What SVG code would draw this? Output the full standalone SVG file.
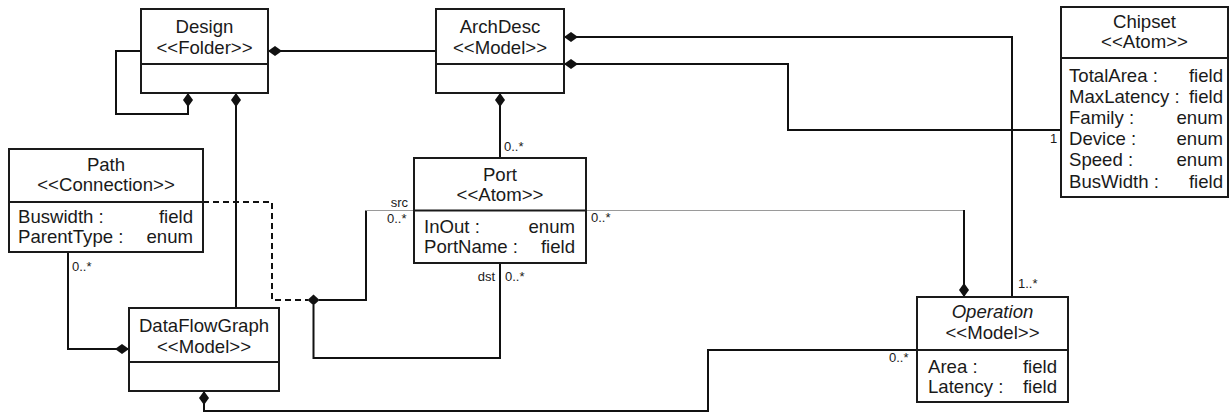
<svg xmlns="http://www.w3.org/2000/svg" width="1231" height="413" viewBox="0 0 1231 413">
<style>
  .box { fill: #fff; stroke: #1a1a1a; stroke-width: 2; }
  .div { stroke: #1a1a1a; stroke-width: 2; fill: none; }
  .t { font-family: "Liberation Sans", Arial, sans-serif; font-size: 18.6px; fill: #1a1a1a; }
  .c { text-anchor: middle; }
  .r { text-anchor: end; }
  .i { font-style: italic; }
  .lbl { font-family: "Liberation Sans", Arial, sans-serif; font-size: 13px; fill: #1a1a1a; }
  .ln { fill: none; stroke: #111; stroke-width: 2; }
  .comp { marker-start: url(#dia); }
  .thin { fill: none; stroke: #9a9a9a; stroke-width: 1.2; }
  .dash { fill: none; stroke: #111; stroke-width: 2; stroke-dasharray: 6 4; }
</style>
<defs>
  <marker id="dia" viewBox="0 0 14 10" refX="0" refY="5" markerWidth="14" markerHeight="10" markerUnits="userSpaceOnUse" orient="auto">
    <path d="M0,5 L7,0 L14,5 L7,10 Z" fill="#111"/>
  </marker>
</defs>
<rect width="1231" height="413" fill="#fff"/>

<g id="connectors">
  <path class="ln comp" d="M188,93 V114 H116 V51 H141"/>
  <path class="ln comp" d="M236,93 V308"/>
  <path class="ln comp" d="M268,51 H436"/>
  <path class="ln comp" d="M500,93 V158"/>
  <text class="lbl" x="504" y="151">0..*</text>
  <path class="ln comp" d="M564,37 H1012 V297"/>
  <text class="lbl" x="1018" y="288">1..*</text>
  <path class="ln comp" d="M564,64 H788 V130 H1061"/>
  <text class="lbl" x="1050" y="143">1</text>
  <path class="thin" d="M586,210.5 H964"/>
  <path class="ln comp" d="M964,297 V210"/>
  <text class="lbl" x="591" y="222">0..*</text>
  <path class="ln comp" d="M204,391 V411 H708 V350 H917"/>
  <text class="lbl" x="889" y="362">0..*</text>
  <path class="ln comp" d="M129,349 H68 V252"/>
  <text class="lbl" x="72" y="271">0..*</text>
  <path class="dash" d="M203,202 H272 V300 H308"/>
  <polygon points="307.5,300 313.5,294.5 319.5,300 313.5,305.5" fill="#111"/>
  <path class="ln" d="M319,300 H366 V210.5"/>
  <path class="thin" d="M366,210.5 H414"/>
  <text class="lbl r" x="408" y="207">src</text>
  <text class="lbl" x="387" y="223">0..*</text>
  <path class="ln" d="M313.5,305 V358 H500 V263"/>
  <text class="lbl r" x="495" y="281">dst</text>
  <text class="lbl" x="505" y="281">0..*</text>
</g>

<g id="Design">
  <rect class="box" x="141" y="9" width="127" height="84"/>
  <line class="div" x1="141" y1="64" x2="268" y2="64"/>
  <text class="t c" x="204.5" y="33">Design</text>
  <text class="t c" x="204.5" y="54">&lt;&lt;Folder&gt;&gt;</text>
</g>

<g id="ArchDesc">
  <rect class="box" x="436" y="9" width="128" height="84"/>
  <line class="div" x1="436" y1="64" x2="564" y2="64"/>
  <text class="t c" x="500" y="33">ArchDesc</text>
  <text class="t c" x="500" y="54">&lt;&lt;Model&gt;&gt;</text>
</g>

<g id="Chipset">
  <rect class="box" x="1061" y="7" width="167" height="190"/>
  <line class="div" x1="1061" y1="58" x2="1228" y2="58"/>
  <text class="t c" x="1144.5" y="28">Chipset</text>
  <text class="t c" x="1144.5" y="48">&lt;&lt;Atom&gt;&gt;</text>
  <text class="t" x="1069" y="82">TotalArea :</text>
  <text class="t r" x="1223" y="82">field</text>
  <text class="t" x="1069" y="103">MaxLatency :</text>
  <text class="t r" x="1223" y="103">field</text>
  <text class="t" x="1069" y="124">Family :</text>
  <text class="t r" x="1223" y="124">enum</text>
  <text class="t" x="1069" y="145">Device :</text>
  <text class="t r" x="1223" y="145">enum</text>
  <text class="t" x="1069" y="166">Speed :</text>
  <text class="t r" x="1223" y="166">enum</text>
  <text class="t" x="1069" y="188">BusWidth :</text>
  <text class="t r" x="1223" y="188">field</text>
</g>

<g id="Path">
  <rect class="box" x="9" y="149" width="194" height="103"/>
  <line class="div" x1="9" y1="202" x2="203" y2="202"/>
  <text class="t c" x="106" y="171">Path</text>
  <text class="t c" x="106" y="191">&lt;&lt;Connection&gt;&gt;</text>
  <text class="t" x="18" y="223">Buswidth :</text>
  <text class="t r" x="193" y="223">field</text>
  <text class="t" x="18" y="243">ParentType :</text>
  <text class="t r" x="193" y="243">enum</text>
</g>

<g id="Port">
  <rect class="box" x="414" y="158" width="172" height="105"/>
  <line class="div" x1="414" y1="210.5" x2="586" y2="210.5"/>
  <text class="t c" x="500" y="181">Port</text>
  <text class="t c" x="500" y="201">&lt;&lt;Atom&gt;&gt;</text>
  <text class="t" x="424" y="233">InOut :</text>
  <text class="t r" x="575" y="233">enum</text>
  <text class="t" x="424" y="253">PortName :</text>
  <text class="t r" x="575" y="253">field</text>
</g>

<g id="DataFlowGraph">
  <rect class="box" x="129" y="308" width="150" height="83"/>
  <line class="div" x1="129" y1="362" x2="279" y2="362"/>
  <text class="t c" x="204" y="332">DataFlowGraph</text>
  <text class="t c" x="204" y="353">&lt;&lt;Model&gt;&gt;</text>
</g>

<g id="Operation">
  <rect class="box" x="917" y="297" width="151" height="105"/>
  <line class="div" x1="917" y1="350" x2="1068" y2="350"/>
  <text class="t c i" x="992.5" y="318">Operation</text>
  <text class="t c" x="992.5" y="339">&lt;&lt;Model&gt;&gt;</text>
  <text class="t" x="928" y="373">Area :</text>
  <text class="t r" x="1057" y="373">field</text>
  <text class="t" x="928" y="393">Latency :</text>
  <text class="t r" x="1057" y="393">field</text>
</g>
</svg>
